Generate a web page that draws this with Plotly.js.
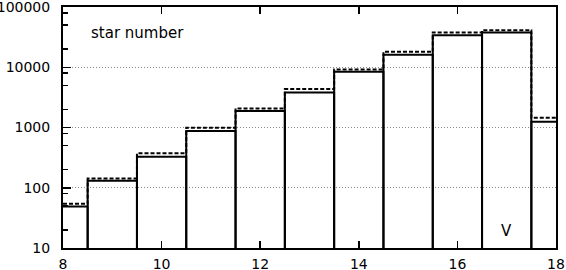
<!DOCTYPE html>
<html>
<head>
<meta charset="utf-8">
<script src="https://cdn.plot.ly/plotly-3.0.1.min.js"></script>
<style>html,body{margin:0;padding:0;background:#fff;}#chart{width:566px;height:270px;}</style>
</head>
<body>
<div id="chart"></div>
<script>
// Bin centres (V magnitude), bin width 1
const binCenters = [8, 9, 10, 11, 12, 13, 14, 15, 16, 17, 18];
// Solid histogram (star counts)
const solidCounts = [49, 131, 327, 871, 1870, 3820, 8390, 16100, 34000, 37700, 1240];
// Dashed histogram (star counts)
const dashedCounts = [54, 143, 372, 990, 2075, 4340, 9190, 18000, 37700, 41200, 1450];
// Axis ticks
const xTickVals = [8, 10, 12, 14, 16, 18];
const xTickText = ['8', '10', '12', '14', '16', '18'];
const yTickVals = [10, 100, 1000, 10000, 100000];
const yTickText = ['10', '100', '1000', '10000', '100000'];
const yMinorVals = [20, 50, 80, 200, 500, 800, 2000, 5000, 8000, 20000, 50000, 80000];

const FONT = 'DejaVu Sans, Liberation Sans, sans-serif';

const traces = [
  {
    type: 'scatter',
    mode: 'lines',
    x: binCenters,
    y: dashedCounts,
    line: {shape: 'hvh', color: '#000', width: 2, dash: '4px,2px'},
    hoverinfo: 'skip',
    showlegend: false
  },
  {
    type: 'bar',
    x: binCenters,
    y: solidCounts,
    width: 1,
    marker: {color: 'rgba(0,0,0,0)', line: {color: '#000', width: 2}},
    hoverinfo: 'skip',
    showlegend: false
  }
];

const layout = {
  width: 566,
  height: 270,
  margin: {l: 63, r: 10, t: 7, b: 22, pad: 0},
  paper_bgcolor: '#fff',
  plot_bgcolor: '#fff',
  bargap: 0,
  font: {family: FONT, size: 14, color: '#000'},
  xaxis: {
    range: [8, 18],
    tickmode: 'array',
    tickvals: xTickVals,
    ticktext: xTickText,
    ticks: 'inside',
    ticklen: 7,
    tickwidth: 1.5,
    tickcolor: '#000',
    showline: true,
    linecolor: '#000',
    linewidth: 2,
    mirror: 'ticks',
    showgrid: false,
    zeroline: false,
    ticklabelstandoff: 2,
    ticklabeloverflow: 'allow',
    tickfont: {family: FONT, size: 14, color: '#000'}
  },
  yaxis: {
    type: 'log',
    range: [1, 5],
    tickmode: 'array',
    tickvals: yTickVals,
    ticktext: yTickText,
    ticks: 'inside',
    ticklen: 8,
    tickwidth: 1.5,
    tickcolor: '#000',
    showline: true,
    linecolor: '#000',
    linewidth: 2,
    mirror: true,
    showgrid: true,
    gridcolor: '#888',
    gridwidth: 1,
    griddash: '1px,2px',
    zeroline: false,
    ticklabelstandoff: 8,
    ticklabeloverflow: 'allow',
    tickfont: {family: FONT, size: 14, color: '#000'},
    minor: {
      tickmode: 'array',
      tickvals: yMinorVals,
      ticks: 'inside',
      ticklen: 5,
      tickwidth: 1.5,
      tickcolor: '#000',
      showgrid: false
    }
  },
  annotations: [
    {
      text: 'star number',
      xref: 'paper', yref: 'paper',
      x: 0.052, y: 0.892,
      xanchor: 'left', yanchor: 'middle',
      showarrow: false,
      font: {family: FONT, size: 15, color: '#000'}
    },
    {
      text: 'V',
      xref: 'x', yref: 'paper',
      x: 17, y: 0.07,
      xanchor: 'center', yanchor: 'middle',
      showarrow: false,
      font: {family: FONT, size: 15, color: '#000'}
    }
  ]
};

Plotly.newPlot('chart', traces, layout, {staticPlot: true, displayModeBar: false});
</script>
</body>
</html>
